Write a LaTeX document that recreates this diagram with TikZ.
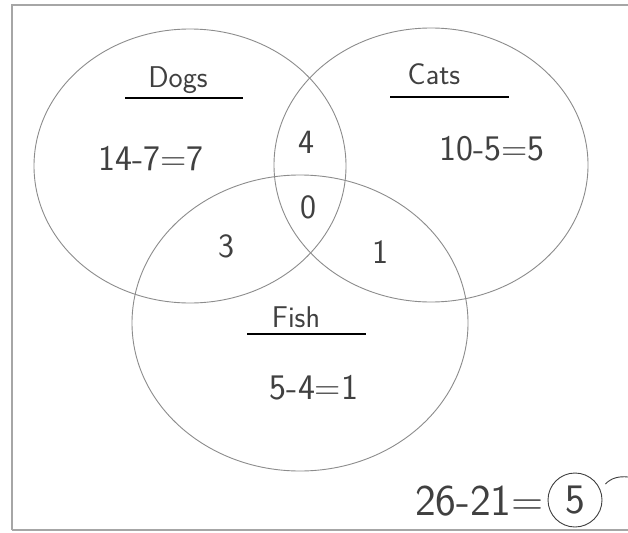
\documentclass[tikz,border=0pt]{standalone}
\usepackage{fontspec}
\tikzset{
  setline/.style={draw=black!45, line width=0.9pt},
  frameline/.style={draw=black!35, line width=1.2pt},
  headline/.style={draw=black, line width=1.6pt},
  hand/.style={text=black!75, font=\sffamily\fontsize{30}{30}\selectfont, inner sep=0pt},
  sum/.style={hand, font=\sffamily\fontsize{36}{36}\selectfont},
  count/.style={hand, font=\sffamily\fontsize{34}{34}\selectfont}
}
\begin{document}
\begin{tikzpicture}[x=1pt,y=-1pt]
\useasboundingbox (0,0) rectangle (628,532);
\fill[white] (0,0) rectangle (628,532);
\draw[frameline] (12,530) -- (12,5) -- (628,5);
\draw[frameline] (12,530) -- (628,530);
%Sets
\draw[setline] (190,166) ellipse [x radius=156, y radius=137];
\draw[setline] (431,165) ellipse [x radius=157, y radius=137];
\draw[setline] (300,323) ellipse [x radius=168, y radius=148];

\node[hand] (dogs) at (178,80) {Dogs};
\draw[headline] (125,98) -- (243,98);
\node[hand] (cats) at (434,74) {Cats};
\draw[headline] (390,97) -- (509,97);
\node[hand] (fish) at (296,317) {Fish};
\draw[headline] (247,334) -- (366,334);
%Labels

\node[sum] (dogsonly) at (151,159) {14-7=7};
\node[sum] (catsonly) at (492,149) {10-5=5};
\node[sum] (fishonly) at (314,388) {5-4=1};
\node[count] (dc) at (306,142) {4};
\node[count] (dcf) at (308,207) {0};
\node[count] (df) at (226,246) {3};
\node[count] (cf) at (380,252) {1};
%Regions

\node[sum, anchor=east, font=\sffamily\fontsize{44}{44}\selectfont] (total) at (544,501) {26-21=};
\node[sum, draw=black!75, circle, line width=0.9pt, minimum size=54pt, font=\sffamily\fontsize{42}{42}\selectfont] (answer) at (575,500) {5};
\draw[black!75, line width=0.9pt] (answer.east) ++(3,-16) .. controls (611,478) and (619,476) .. (628,477);
\end{tikzpicture}
\end{document}
